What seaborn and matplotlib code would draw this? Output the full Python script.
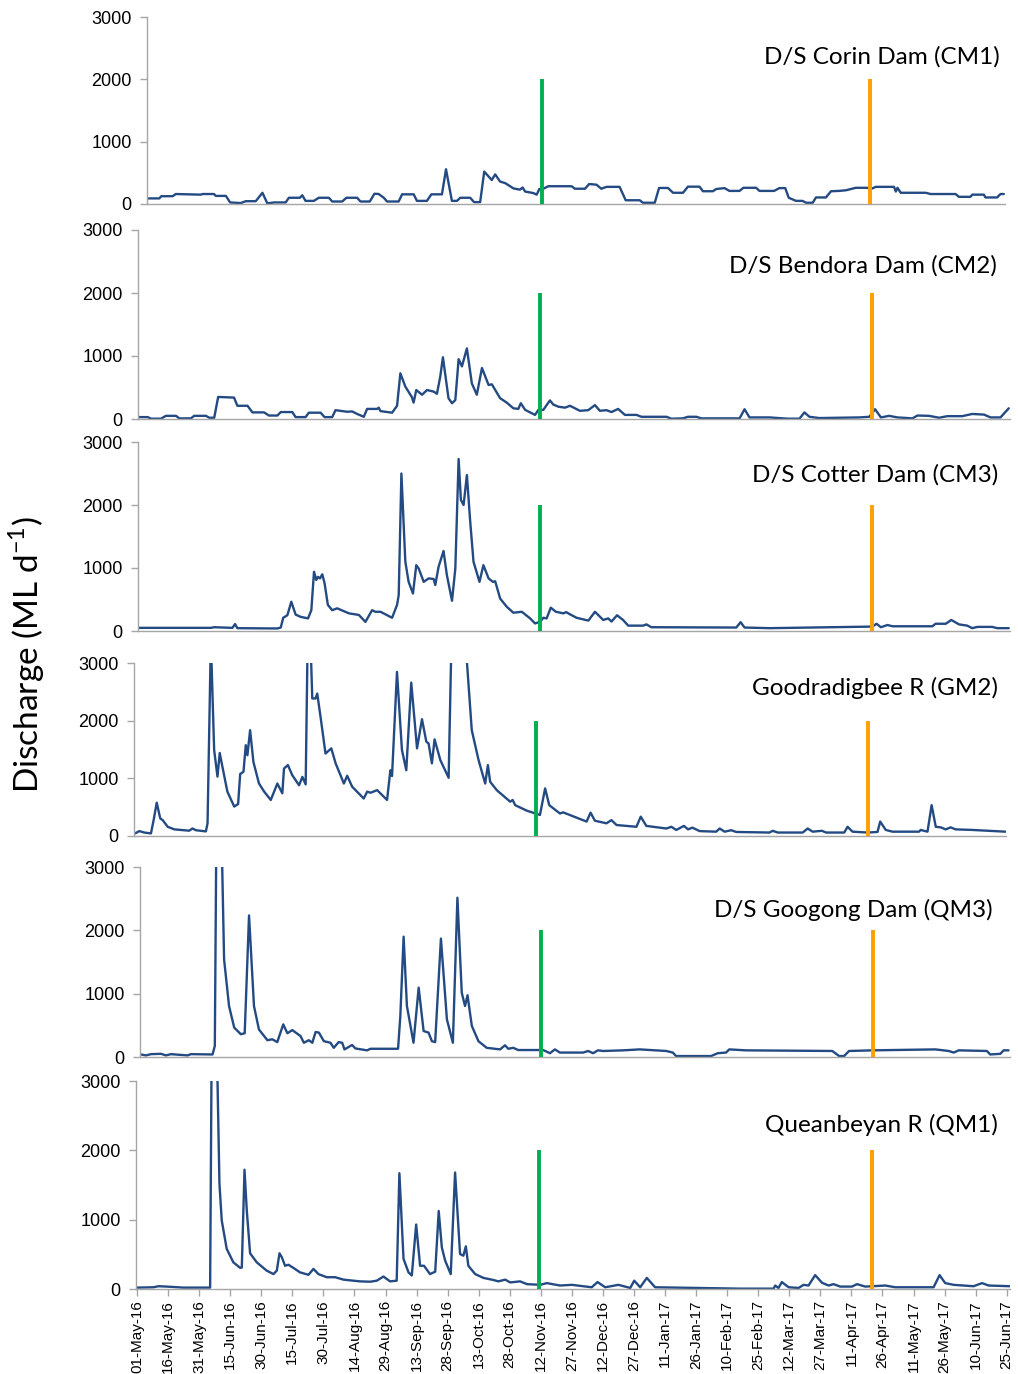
import numpy as np
import pandas as pd
import matplotlib
matplotlib.use("Agg")
import matplotlib.pyplot as plt
import seaborn as sns

# ---------------- data ----------------
START = pd.Timestamp("2016-05-01")
GREEN_DAY = 194.0    # sampling event 1 (days after 01-May-16)
ORANGE_DAY = 355.0   # sampling event 2

site_titles = ["D/S Corin Dam (CM1)", "D/S Bendora Dam (CM2)", "D/S Cotter Dam (CM3)",
               "Goodradigbee R (GM2)", "D/S Googong Dam (QM3)", "Queanbeyan R (QM1)"]

x_tick_labels = ["01-May-16", "16-May-16", "31-May-16", "15-Jun-16", "30-Jun-16", "15-Jul-16",
                 "30-Jul-16", "14-Aug-16", "29-Aug-16", "13-Sep-16", "28-Sep-16", "13-Oct-16",
                 "28-Oct-16", "12-Nov-16", "27-Nov-16", "12-Dec-16", "27-Dec-16", "11-Jan-17",
                 "26-Jan-17", "10-Feb-17", "25-Feb-17", "12-Mar-17", "27-Mar-17", "11-Apr-17",
                 "26-Apr-17", "11-May-17", "26-May-17", "10-Jun-17", "25-Jun-17"]
y_ticks = [0, 1000, 2000, 3000]

# days after 01-May-16, discharge (ML/d)
cm1_days = [0, 5.6, 6.5, 12.1, 13.7, 26, 26.8, 32.5, 33.3, 38.3,
            40.4, 45.6, 48.1, 53, 56.3, 58.7, 62, 67.7, 69.3, 74.7,
            75.9, 77.5, 81.6, 84, 89, 90.6, 95.5, 97.6, 102.9, 104.5,
            109.1, 111.4, 113.5, 116, 117.6, 123.3, 125, 130.7, 132.3, 137.2,
            139.4, 144.6, 146.6, 149.5, 152, 153.6, 158.5, 160.4, 163.4, 165.4,
            169.1, 170.8, 173.2, 175.7, 179.8, 183, 184.3, 185.5, 189.6, 191.2,
            192.5, 194.5, 196.9, 208.4, 210, 215, 217, 220.6, 223, 225.6,
            232, 235, 241.9, 243.5, 249.3, 251.4, 255.8, 258.3, 263.2, 265.6,
            271.3, 273, 277.9, 279.5, 283.6, 286, 291, 292.9, 299.2, 300.8,
            308, 310.6, 313.5, 315.2, 318.8, 322, 323.7, 327, 328.6, 333.5,
            336, 340, 343.3, 348.2, 353.9, 355.6, 358, 367, 367.9, 368.7,
            370.3, 382.6, 385, 397.3, 398.9, 404.6, 405.5, 411.2, 412, 417.7,
            419.4, 421]
cm1_flow = [90, 90, 125, 125, 160, 150, 160, 160, 130, 130,
            25, 15, 45, 45, 180, 10, 25, 25, 100, 100,
            140, 50, 50, 100, 100, 40, 40, 100, 100, 40,
            40, 165, 160, 100, 40, 40, 155, 155, 50, 50,
            155, 155, 557, 50, 50, 100, 100, 30, 30, 520,
            385, 475, 360, 335, 250, 230, 265, 200, 175, 150,
            240, 245, 285, 285, 245, 245, 320, 310, 245, 275,
            275, 60, 60, 20, 20, 257, 257, 180, 180, 278,
            278, 205, 205, 240, 255, 210, 210, 260, 260, 210,
            210, 255, 255, 100, 50, 50, 20, 20, 105, 105,
            205, 210, 220, 260, 260, 240, 275, 275, 200, 260,
            180, 180, 160, 160, 115, 115, 150, 150, 105, 105,
            160, 160]

cm2_days = [0, 4.2, 5.8, 10.6, 13, 17.9, 19.5, 25.1, 26.7, 32.4,
            34, 36.4, 38.3, 46, 47.6, 52.5, 54.9, 60.5, 62.9, 67,
            68.6, 74.2, 75.8, 80.6, 82.2, 87.9, 89.8, 93.5, 95.1, 100.8,
            103.2, 105.6, 108.8, 110.4, 115.3, 116, 116.9, 122.5, 124.9, 126.5,
            128.9, 132.1, 132.9, 134.2, 137, 139.4, 142.6, 144.2, 145.8, 147.1,
            149.8, 151.5, 153.1, 154.7, 156.3, 158.7, 161.1, 163.5, 166, 169.2,
            170.8, 174.8, 178, 181.2, 183.6, 184.8, 186.9, 191.7, 193.3, 195.7,
            198.9, 200.5, 203, 206.2, 208.6, 213.4, 217.4, 220.7, 223.1, 226.3,
            228.7, 231.9, 235.2, 240.8, 243.2, 255.3, 257.7, 263.3, 265.7, 269.8,
            272.2, 290.7, 293.1, 295.5, 305.2, 314, 319.7, 322.1, 324.5, 329.3,
            348.6, 353.5, 356.3, 359.1, 363.1, 367.1, 374.4, 376.8, 382.4, 387.3,
            391.3, 398.5, 403.3, 409, 412.2, 417, 421]
cm2_flow = [30, 30, 5, 5, 50, 50, 10, 10, 50, 50,
            20, 20, 350, 340, 210, 210, 105, 105, 55, 55,
            110, 110, 30, 30, 100, 100, 30, 30, 140, 115,
            120, 80, 35, 160, 160, 180, 125, 100, 210, 725,
            515, 345, 260, 460, 385, 460, 435, 400, 670, 980,
            330, 250, 300, 950, 835, 1120, 565, 385, 810, 540,
            550, 330, 260, 170, 160, 250, 145, 65, 145, 145,
            295, 230, 195, 180, 210, 130, 140, 220, 130, 140,
            110, 160, 65, 65, 35, 35, 5, 10, 35, 35,
            10, 10, 155, 25, 25, 5, 5, 105, 35, 15,
            25, 35, 155, 25, 50, 25, 10, 55, 50, 20,
            45, 45, 80, 70, 25, 25, 170]

cm3_days = [0, 34.8, 36.4, 45.2, 46.5, 47.6, 67, 68.6, 69.8, 71.8,
            73.7, 75.8, 78.2, 81.8, 83.4, 84.7, 85.8, 86.6, 87.6, 88.7,
            89.8, 91.4, 93.5, 95.9, 101.6, 106.4, 109.6, 112.8, 114.4, 116.9,
            122.5, 124.9, 125.7, 127, 128.9, 130.5, 132.6, 134.2, 135.4, 137.8,
            140.2, 142.6, 143.4, 145, 147.4, 149, 151.5, 153.1, 154.7, 155.8,
            157.1, 158.7, 160.3, 161.9, 164.8, 166.7, 169.2, 171.3, 172.4, 174.8,
            178, 181.2, 185.3, 189.3, 191.7, 194.1, 195.7, 197.3, 199.3, 201.8,
            205.4, 206.7, 208.6, 211.8, 217.5, 220.7, 224.7, 227.1, 228.7, 231.4,
            234.3, 236.8, 244, 245.6, 248, 289.1, 291.2, 293.1, 305.2, 355,
            357, 359.1, 362.3, 364.7, 384, 385.6, 390.5, 393.2, 396.9, 400.9,
            403.3, 405.8, 413, 415.4, 421]
cm3_flow = [50, 50, 60, 50, 110, 45, 40, 55, 210, 250,
            465, 260, 225, 200, 330, 940, 810, 860, 835, 900,
            760, 415, 330, 360, 280, 255, 145, 330, 305, 305,
            210, 415, 570, 2500, 1100, 780, 595, 1045, 990, 780,
            835, 825, 730, 1020, 1270, 890, 480, 990, 2730, 2080,
            2000, 2475, 1740, 1100, 780, 1045, 835, 780, 790, 515,
            385, 290, 305, 200, 120, 145, 210, 200, 370, 305,
            280, 300, 265, 210, 165, 305, 175, 200, 150, 250,
            175, 85, 85, 105, 60, 55, 140, 55, 45, 70,
            115, 60, 95, 75, 75, 115, 115, 175, 105, 85,
            45, 65, 65, 45, 45]

gm2_days = [0, 2.1, 4.5, 7.7, 9, 10.5, 12.2, 13.4, 15.8, 19,
            26.2, 27.8, 29.5, 34.3, 35.1, 36.7, 38.3, 39.9, 41, 42.3,
            44.7, 48, 49.9, 50.9, 52.5, 53.6, 54.4, 55.7, 57.3, 60,
            62.5, 65.7, 68.9, 71.3, 72.1, 74, 76.1, 79.4, 81, 82.6,
            83.7, 85, 85.8, 87.4, 88.2, 89.8, 92.2, 95, 97.1, 101.1,
            102.7, 105.1, 110.7, 112.4, 114, 117.2, 122, 123.6, 124.4, 126.8,
            129.2, 131.3, 133.7, 136.5, 138.9, 141, 142.1, 143.7, 145, 147.8,
            151.8, 153.4, 155, 157, 159.5, 163, 166.3, 169.5, 170.8, 171.9,
            175.1, 181.6, 182.8, 184, 189.6, 196, 198.5, 200.5, 205.7, 207.2,
            218.6, 220.5, 222.6, 228.2, 230.6, 233.1, 242.7, 244.8, 247.5, 257.2,
            259.6, 262, 265.7, 267.7, 269.8, 273.3, 281.3, 283, 285.4, 288.6,
            291, 307.1, 308.7, 311.1, 323.2, 325.6, 328, 332.5, 334.5, 343.3,
            344.9, 347.3, 354.6, 359.4, 360.7, 363.4, 366.7, 379.5, 380.3, 383.6,
            385.6, 387.6, 390, 392.4, 394.8, 397.2, 405.3, 421.4]
gm2_flow = [45, 85, 60, 45, 275, 577, 305, 275, 160, 115,
            92, 130, 100, 80, 220, 3400, 1490, 1030, 1440, 1200,
            770, 510, 555, 1075, 1115, 1575, 1400, 1835, 1285, 910,
            770, 625, 910, 740, 1170, 1230, 1055, 880, 1025, 895,
            3800, 3300, 2385, 2385, 2470, 2065, 1430, 1520, 1260, 910,
            1045, 855, 650, 770, 750, 795, 625, 1140, 1040, 2845,
            1490, 1140, 2660, 1520, 2025, 1635, 1605, 1260, 1675, 1315,
            1010, 3800, 4500, 4200, 3600, 1835, 1315, 910, 1230, 940,
            795, 595, 625, 535, 440, 365, 825, 535, 390, 410,
            250, 405, 265, 220, 275, 190, 160, 335, 175, 130,
            160, 105, 175, 115, 145, 85, 75, 130, 75, 100,
            70, 60, 90, 60, 60, 130, 75, 90, 60, 60,
            160, 75, 60, 70, 250, 105, 75, 75, 105, 75,
            535, 160, 150, 115, 150, 115, 105, 75]

qm3_days = [0, 2.4, 4.8, 9.7, 12.1, 14.5, 22.6, 24.2, 34.7, 35.8,
            36.6, 38, 39.2, 40.3, 42.7, 45.2, 48.4, 50.3, 52.4, 54.8,
            57.2, 61.3, 63.7, 66.1, 69, 71, 73.4, 77.4, 79, 81.4,
            83.1, 84.7, 86.3, 88.7, 91.9, 93.5, 95.9, 97.6, 98.7, 102.4,
            104, 109.7, 111.3, 124.7, 125.8, 127.4, 129, 132.2, 134.7, 137.1,
            139.5, 141.1, 142.7, 145.5, 148.4, 151.3, 153.5, 155.6, 157.2, 158.4,
            160.5, 163.7, 167.7, 174.2, 176.6, 178.2, 180.6, 183, 195.1, 198.4,
            200.8, 203.2, 214.5, 216.9, 219.3, 221.7, 224.2, 233.8, 241.9, 254.8,
            258, 259.6, 276.6, 279.8, 283.8, 285.4, 293.5, 335.4, 338.7, 341.1,
            343.5, 354.8, 385.4, 391.9, 394.3, 396.7, 410.4, 412, 416.9, 418.5,
            420.9]
qm3_flow = [40, 25, 45, 50, 25, 45, 25, 45, 40, 175,
            3800, 4000, 3300, 1540, 805, 465, 360, 375, 2235, 805,
            435, 265, 280, 235, 515, 375, 425, 330, 225, 265,
            225, 395, 385, 250, 225, 145, 235, 225, 120, 190,
            135, 105, 130, 130, 645, 1900, 805, 225, 1095, 410,
            385, 250, 235, 1870, 595, 225, 2515, 1015, 805, 975,
            490, 250, 145, 120, 185, 130, 145, 110, 110, 60,
            120, 70, 70, 95, 60, 105, 95, 105, 120, 95,
            70, 15, 15, 60, 70, 120, 105, 95, 15, 15,
            95, 105, 120, 95, 70, 105, 95, 40, 50, 105,
            105]

qm1_days = [0, 7.9, 10.3, 14.3, 22.4, 35.3, 36.1, 37.5, 38.8, 39.8,
            40.9, 43.3, 46.5, 49.8, 50.6, 51.9, 53, 54.6, 57.8, 62.6,
            65.9, 67.5, 68.8, 69.9, 71.5, 73.1, 75.5, 78.7, 82.8, 85.2,
            87.6, 91.6, 95.7, 99.7, 107.7, 112.6, 115.8, 119, 122.2, 125.4,
            126.7, 128.7, 131.1, 132.7, 134.8, 136.7, 138.6, 141.5, 144, 145.7,
            147.2, 148.8, 151.5, 153.6, 156, 157.6, 158.8, 160, 163.3, 167.3,
            172.1, 174.5, 177.8, 180.2, 185, 188.3, 194.7, 197.9, 204.3, 210,
            219.6, 222.4, 226.1, 232.5, 238.2, 240.1, 243, 246.2, 250.2, 291.3,
            307.4, 308.2, 309.8, 311.4, 314.7, 319.5, 321.9, 324.3, 327.5, 330.8,
            334, 336.4, 339.6, 345.3, 347.7, 351.7, 361.4, 366.2, 384.7, 387.6,
            390.3, 394.4, 404, 408.1, 411.3, 421.7]
qm1_flow = [20, 25, 40, 35, 20, 20, 3800, 4000, 3100, 1520,
            990, 580, 385, 305, 310, 1720, 1135, 515, 385, 265,
            215, 265, 515, 460, 335, 350, 305, 240, 205, 290,
            215, 170, 170, 135, 110, 105, 120, 180, 110, 120,
            1670, 435, 240, 195, 930, 335, 335, 215, 250, 1125,
            600, 410, 215, 1680, 505, 480, 615, 335, 215, 160,
            130, 110, 135, 95, 110, 70, 60, 85, 50, 60,
            25, 100, 25, 60, 15, 120, 25, 160, 25, 5,
            5, 50, 15, 100, 25, 15, 60, 50, 200, 90,
            50, 70, 35, 35, 70, 35, 50, 25, 25, 200,
            85, 60, 40, 85, 50, 40]

series = [(cm1_days, cm1_flow), (cm2_days, cm2_flow), (cm3_days, cm3_flow),
          (gm2_days, gm2_flow), (qm3_days, qm3_flow), (qm1_days, qm1_flow)]

# ---------------- style / layout ----------------
sns.set_style("white")
plt.rcParams["font.family"] = ["Liberation Sans", "DejaVu Sans"]

W, H = 1018, 1374
LINE = "#234A82"
AXC = "#A6A6A6"
GREEN = "#00B050"
ORANGE = "#FF9F00"

# panel pixel boxes: left, top, right, bottom
boxes = [(147, 17, 1005, 204), (138, 230, 1010, 419), (138, 442, 1010, 631),
         (134, 663, 1006, 836), (140, 867, 1010, 1057), (136, 1081, 1010, 1289)]
title_pos = [(1000, 57), (997, 266), (998, 475), (998, 688), (993, 910), (998, 1125)]

fig = plt.figure(figsize=(W / 100, H / 100), dpi=100)

tick_dates = pd.to_datetime(x_tick_labels, format="%d-%b-%y")
x0 = START - pd.Timedelta(hours=12)
x1 = START + pd.Timedelta(days=421.6)

for i, ((l, t, r, b), (days, flow)) in enumerate(zip(boxes, series)):
    ax = fig.add_axes([l / W, 1 - b / H, (r - l) / W, (b - t) / H])
    df = pd.DataFrame({"date": START + pd.to_timedelta(np.asarray(days, dtype=float), unit="D"),
                       "flow": flow})
    sns.lineplot(data=df, x="date", y="flow", ax=ax, color=LINE, linewidth=1.7,
                 estimator=None, sort=False, zorder=2)
    ax.vlines(START + pd.Timedelta(days=GREEN_DAY), 0, 2000, color=GREEN, lw=2.8, zorder=3)
    ax.vlines(START + pd.Timedelta(days=ORANGE_DAY), 0, 2000, color=ORANGE, lw=2.8, zorder=3)
    ax.set_xlim(x0, x1)
    ax.set_ylim(0, 3000)
    ax.set_xlabel("")
    ax.set_ylabel("")
    for s in ["top", "right"]:
        ax.spines[s].set_visible(False)
    for s in ["left", "bottom"]:
        ax.spines[s].set_color(AXC)
        ax.spines[s].set_linewidth(1.0)
    ax.set_yticks(y_ticks)
    ax.set_yticklabels([str(v) for v in y_ticks], fontsize=13, color="black")
    ax.tick_params(axis="y", direction="out", length=5, width=1, color=AXC, pad=6, left=True)
    ax.set_xticks(tick_dates)
    if i == len(boxes) - 1:
        ax.set_xticklabels(x_tick_labels, rotation=90, fontsize=11, color="black")
        ax.tick_params(axis="x", direction="out", length=5, width=1, color=AXC, pad=3, bottom=True)
    else:
        ax.tick_params(axis="x", length=0, labelbottom=False)
    ax.set_facecolor("none")
    tx, ty = title_pos[i]
    fig.text(tx / W, 1 - ty / H, site_titles[i], ha="right", va="center",
             fontsize=17.5, family=["Lato", "DejaVu Sans"], color="black")

fig.text(27 / W, 1 - 655 / H, r"Discharge (ML d$^{\mathregular{-1}}$)", rotation=90,
         ha="center", va="center", fontsize=24, family=["Lato", "DejaVu Sans"], color="black")

fig.savefig("out.png", dpi=100, facecolor="white")
